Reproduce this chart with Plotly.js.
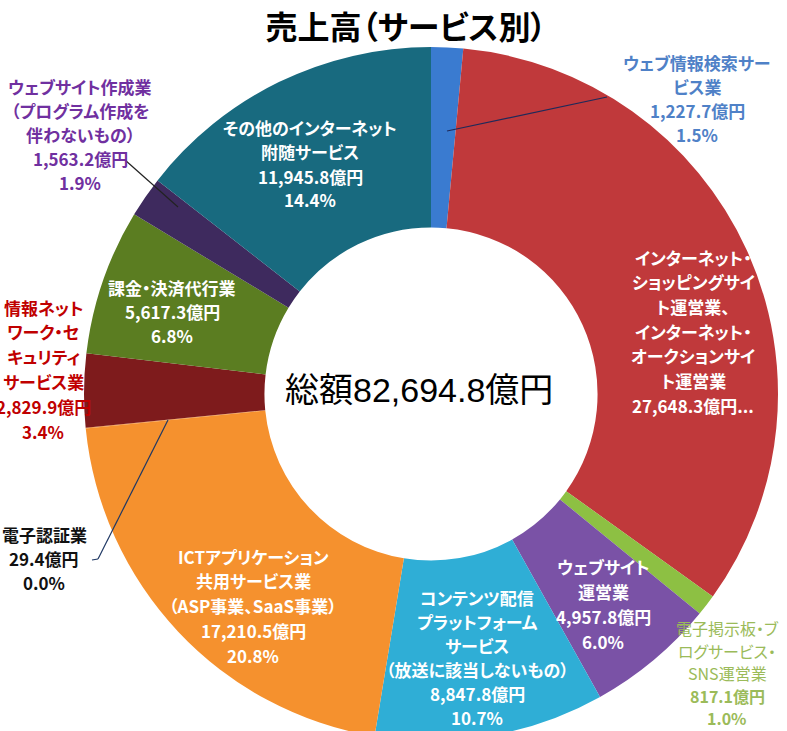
<!DOCTYPE html>
<html><head><meta charset="utf-8">
<script src="https://cdn.plot.ly/plotly-3.0.1.min.js"></script>
<style>
html,body{margin:0;padding:0;overflow:hidden;background:#fff;}
#chart{width:787px;height:760px;}
svg text{font-feature-settings:"palt" 1;}
</style></head><body><div id="chart"></div>
<script>
// ---- data ----
const categoryLines = [
  ['ウェブ情報検索サー','ビス業'],
  ['インターネット・','ショッピングサイ','ト運営業、','インターネット・','オークションサイ','ト運営業'],
  ['電子掲示板・ブ','ログサービス・','SNS運営業'],
  ['ウェブサイト','運営業'],
  ['コンテンツ配信','プラットフォーム','サービス','（放送に該当しないもの）'],
  ['ICTアプリケーション','共用サービス業','（ASP事業、SaaS事業）'],
  ['電子認証業'],
  ['情報ネット','ワーク・セ','キュリティ','サービス業'],
  ['課金・決済代行業'],
  ['ウェブサイト作成業','（プログラム作成を','伴わないもの）'],
  ['その他のインターネット','附随サービス']
];
const categories = categoryLines.map(l => l.join(''));
const values = [1227.7, 27648.3, 817.1, 4957.8, 8847.8, 17210.5, 29.4, 2829.9, 5617.3, 1563.2, 11945.8];
const unit = '億円';
const titleText = '売上高（サービス別）';
const totalPrefix = '総額';

// ---- styles ----
const sliceColors = ['#3A7BD0','#C0393B','#8DC043','#7A52A6','#2FAED6','#F5912E','#F5912E','#7E1B1C','#5B7D21','#3E2A5E','#186A7F'];
const labelColors = ['#4F81C7','#FFFFFF','#9BBB59','#FFFFFF','#FFFFFF','#FFFFFF','#111111','#C00000','#FFFFFF','#7030A0','#FFFFFF'];
// label layout: center x, first line y, line step (pixels), options
const labelPos = [
  {cx:697, y0:62,  dy:24},
  {cx:693, y0:257, dy:24.7, truncated:true},
  {cx:727, y0:628, dy:22.5, nameWeight:'normal', size:16},
  {cx:603, y0:566, dy:25},
  {cx:477, y0:597, dy:24},
  {cx:253, y0:556, dy:24.8},
  {cx:44,  y0:534, dy:24},
  {cx:43,  y0:307, dy:24.8},
  {cx:172, y0:287, dy:24},
  {cx:80,  y0:86,  dy:24.2},
  {cx:310, y0:128, dy:24}
];

const W = 787, H = 760;
const px = x => x / W;
const py = y => 1 - y / H;
const fmt = v => v.toLocaleString('en-US', {minimumFractionDigits:1, maximumFractionDigits:1});
const total = values.reduce((a,b)=>a+b, 0);

const annotations = [];
categoryLines.forEach((lines, i) => {
  const p = labelPos[i];
  const rows = lines.map(t => ({t, w: p.nameWeight || 'bold'}));
  if (p.truncated) {
    rows.push({t: fmt(values[i]) + unit + '...', w:'bold'});
  } else {
    rows.push({t: fmt(values[i]) + unit, w:'bold'});
    rows.push({t: (values[i] / total * 100).toFixed(1) + '%', w:'bold'});
  }
  rows.forEach((r, k) => {
    annotations.push({
      x: px(p.cx), y: py(p.y0 + k * p.dy), xref:'paper', yref:'paper',
      xanchor:'center', yanchor:'middle', showarrow:false, text: r.t,
      font:{family:'"Noto Sans CJK JP", sans-serif', size: p.size || 17, color: labelColors[i], weight: r.w}
    });
  });
});
annotations.push({
  x: px(419), y: py(390), xref:'paper', yref:'paper', xanchor:'center', yanchor:'middle',
  showarrow:false, text: totalPrefix + fmt(total) + unit,
  font:{family:'"Liberation Sans", "Noto Sans CJK JP", sans-serif', size:34, color:'#000'}
});

const seg = (x0,y0,x1,y1,c) => ({type:'line', xref:'paper', yref:'paper',
  x0:px(x0), y0:py(y0), x1:px(x1), y1:py(y1), line:{color:c, width:1.2}});
const shapes = [
  seg(447,131,607,97,'#1F2A5A'),
  seg(125,160,178,207,'#222222'),
  seg(92,560,98,559,'#1F3864'),
  seg(98,559,168,420,'#1F3864')
];

const cx = 431, cy = 394, r = 347;
const trace = {
  type:'pie', labels: categories, values: values, sort:false, direction:'clockwise',
  rotation:0, hole:0.48, textinfo:'none', hoverinfo:'skip',
  marker:{colors: sliceColors, line:{width:0}},
  domain:{x:[px(cx - r), px(cx + r)], y:[py(cy + r), py(cy - r)]},
  showlegend:false
};
const layout = {
  width:W, height:H, margin:{l:0,r:0,t:0,b:0}, paper_bgcolor:'#fff', plot_bgcolor:'#fff',
  showlegend:false,
  title:{text: titleText, x: px(406), y: py(28), xref:'paper', yref:'paper', xanchor:'center', yanchor:'middle',
    font:{family:'"Noto Sans CJK JP", sans-serif', size:32, color:'#000', weight:'bold'}},
  annotations, shapes
};
Plotly.newPlot('chart', [trace], layout, {staticPlot:true, displayModeBar:false});
</script></body></html>
